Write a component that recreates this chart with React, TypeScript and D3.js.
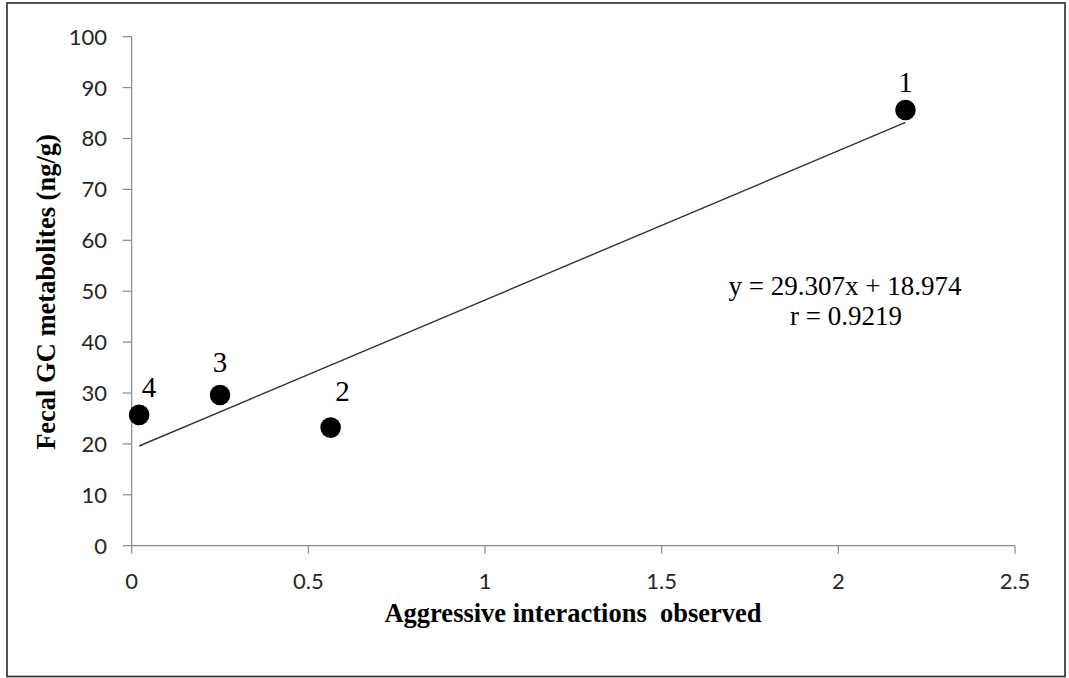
import React from "react";
import * as d3 from "d3";

// Aggressive interactions observed vs. fecal GC metabolites per animal
const animalIds = ["1", "2", "3", "4"];
const aggression = [2.19, 0.563, 0.25, 0.021];
const gcMetabolites = [85.6, 23.2, 29.6, 25.7];

// Linear fit reported on the chart
const slope = 29.307;
const intercept = 18.974;
const rValue = 0.9219;

const xTicks = [0, 0.5, 1, 1.5, 2, 2.5];
const yTicks = [0, 10, 20, 30, 40, 50, 60, 70, 80, 90, 100];

// Pixel nudges for the point labels (dx, dy from the marker centre)
const labelOffsets: [number, number][] = [
  [0, -18],
  [12, -27],
  [0, -23],
  [10, -18],
];

const W = 1069;
const H = 678;
const plot = { left: 131.7, right: 1015, top: 36.7, bottom: 545.7 };

const tickFont = "Lato, 'Open Sans', sans-serif";
const serif = "'Liberation Serif', 'Times New Roman', serif";

export default function App() {
  const x = d3.scaleLinear().domain([0, 2.5]).range([plot.left, plot.right]);
  const y = d3.scaleLinear().domain([0, 100]).range([plot.bottom, plot.top]);

  const xMin = d3.min(aggression) as number;
  const xMax = d3.max(aggression) as number;
  const fit = d3
    .line<number>()
    .x((v) => x(v))
    .y((v) => y(slope * v + intercept));

  const axisColor = "#898989";
  const textColor = "#262626";

  return (
    <div style={{ position: "absolute", left: 0, top: 0 }}>
      <svg width={W} height={H} style={{ display: "block", background: "#fff" }}>
        <rect x={7} y={3} width={1058} height={673.5} fill="#fff" stroke="#2b2b2b" strokeWidth={1.6} />

        {/* y axis */}
        <line x1={x(0)} x2={x(0)} y1={y(0)} y2={y(100)} stroke={axisColor} strokeWidth={1.2} />
        {yTicks.map((t) => (
          <g key={"y" + t}>
            <line x1={x(0) - 9} x2={x(0)} y1={y(t)} y2={y(t)} stroke={axisColor} strokeWidth={1.2} />
            <text
              x={107}
              y={y(t)}
              dy="0.36em"
              textAnchor="end"
              fontFamily={tickFont}
              fontSize={22}
              fill={textColor}
            >
              {t}
            </text>
          </g>
        ))}

        {/* x axis */}
        <line x1={x(0)} x2={x(2.5)} y1={y(0)} y2={y(0)} stroke={axisColor} strokeWidth={1.2} />
        {xTicks.map((t) => (
          <g key={"x" + t}>
            <line x1={x(t)} x2={x(t)} y1={y(0)} y2={y(0) + 8} stroke={axisColor} strokeWidth={1.2} />
            <text
              x={x(t)}
              y={589}
              textAnchor="middle"
              fontFamily={tickFont}
              fontSize={22}
              fill={textColor}
            >
              {t}
            </text>
          </g>
        ))}

        {/* trend line over the observed range */}
        <path d={fit([xMin, xMax]) || ""} fill="none" stroke="#333" strokeWidth={1.4} />

        {/* markers */}
        {aggression.map((v, i) => (
          <circle key={"p" + i} cx={x(v)} cy={y(gcMetabolites[i])} r={10.3} fill="#000" />
        ))}

        {/* point labels */}
        {aggression.map((v, i) => (
          <text
            key={"l" + i}
            x={x(v) + labelOffsets[i][0]}
            y={y(gcMetabolites[i]) + labelOffsets[i][1]}
            textAnchor="middle"
            fontFamily={serif}
            fontSize={29}
            fill="#000"
          >
            {animalIds[i]}
          </text>
        ))}

        {/* regression annotation */}
        <text x={845} y={295} textAnchor="middle" fontFamily={serif} fontSize={27} fill="#000">
          {`y = ${slope}x + ${intercept}`}
        </text>
        <text x={846} y={325} textAnchor="middle" fontFamily={serif} fontSize={27} fill="#000">
          {`r = ${rValue}`}
        </text>

        {/* axis titles */}
        <text
          x={573}
          y={622}
          textAnchor="middle"
          fontFamily={serif}
          fontWeight="bold"
          fontSize={26.5}
          fill="#000"
          style={{ whiteSpace: "pre" }}
        >
          {"Aggressive interactions  observed"}
        </text>
        <text
          transform={`translate(55, 292) rotate(-90)`}
          textAnchor="middle"
          fontFamily={serif}
          fontWeight="bold"
          fontSize={26.5}
          fill="#000"
        >
          Fecal GC metabolites (ng/g)
        </text>
      </svg>
    </div>
  );
}
